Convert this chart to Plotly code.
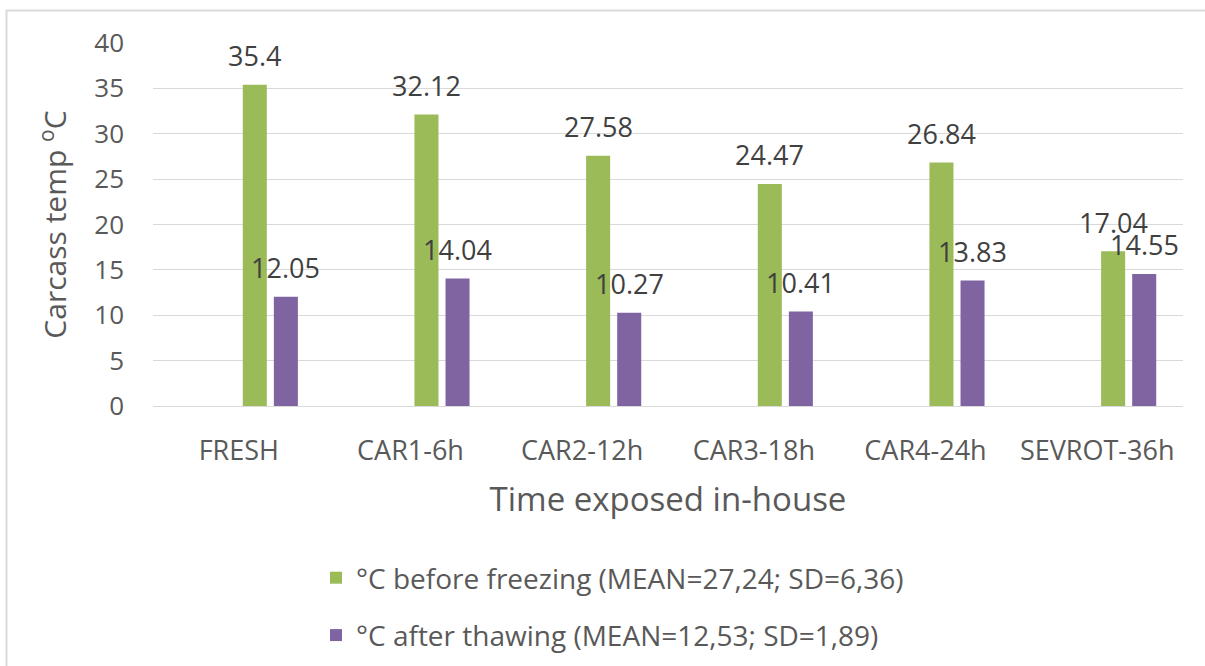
import plotly.graph_objects as go

categories = ["FRESH", "CAR1-6h", "CAR2-12h", "CAR3-18h", "CAR4-24h", "SEVROT-36h"]
before_freezing = [35.4, 32.12, 27.58, 24.47, 26.84, 17.04]
after_thawing = [12.05, 14.04, 10.27, 10.41, 13.83, 14.55]
name_before = "°C before freezing (MEAN=27,24; SD=6,36)"
name_after = "°C after thawing (MEAN=12,53; SD=1,89)"
y_ticks = [0, 5, 10, 15, 20, 25, 30, 35, 40]

GREEN = "#9BBB59"
PURPLE = "#8064A2"
GRID = "#D9D9D9"
AXIS_TXT = "#595959"
LABEL_TXT = "#404040"
FONT = "Open Sans"

W = 0.14
OFF_G = 0.023
OFF_P = 0.204

L, R, T, B = 153, 22, 43, 260
FW, FH = 1205, 666
PW, PH = FW - L - R, FH - T - B


def px_x(p):
    return (p - L) / PW


def px_y(p):
    return (FH - B - p) / PH


fig = go.Figure()
fig.add_trace(go.Bar(x=categories, y=before_freezing, name=name_before,
                     marker=dict(color=GREEN, line=dict(width=0)),
                     width=W, offset=OFF_G, legendgroup="a"))
fig.add_trace(go.Bar(x=categories, y=after_thawing, name=name_after,
                     marker=dict(color=PURPLE, line=dict(width=0)),
                     width=W, offset=OFF_P, legendgroup="b"))

annotations = []
for i, v in enumerate(before_freezing):
    annotations.append(dict(x=i + OFF_G + W / 2, y=v, xref="x", yref="y",
                            text=f"{v:g}", showarrow=False, yanchor="middle",
                            yshift=29, font=dict(family=FONT, size=27, color=LABEL_TXT)))
for i, v in enumerate(after_thawing):
    annotations.append(dict(x=i + OFF_P + W / 2, y=v, xref="x", yref="y",
                            text=f"{v:g}", showarrow=False, yanchor="middle",
                            yshift=29, font=dict(family=FONT, size=27, color=LABEL_TXT)))

shapes = [
    dict(type="line", xref="paper", yref="paper", x0=px_x(6.5), x1=px_x(FW + 2),
         y0=px_y(10.5), y1=px_y(10.5), line=dict(color=GRID, width=2)),
    dict(type="line", xref="paper", yref="paper", x0=px_x(6.5), x1=px_x(6.5),
         y0=px_y(10), y1=px_y(FH + 2), line=dict(color=GRID, width=2)),
]

fig.update_layout(
    width=FW, height=FH,
    margin=dict(l=L, r=R, t=T, b=B, autoexpand=False),
    paper_bgcolor="white", plot_bgcolor="white",
    font=dict(family=FONT, color=AXIS_TXT),
    barmode="overlay",
    annotations=annotations,
    shapes=shapes,
    showlegend=True,
    legend=dict(orientation="v", x=px_x(316), xanchor="left",
                y=px_y(553), yanchor="top", traceorder="grouped",
                tracegroupgap=18, font=dict(family=FONT, size=28, color=AXIS_TXT),
                bgcolor="rgba(0,0,0,0)"),
    xaxis=dict(type="category", range=[-0.5, 5.5], showgrid=False,
               showline=True, linecolor=GRID, linewidth=1,
               ticks="", ticklabelstandoff=21,
               tickfont=dict(family=FONT, size=27, color=AXIS_TXT),
               title=dict(text="Time exposed in-house", standoff=20,
                          font=dict(family=FONT, size=33, color=AXIS_TXT))),
    yaxis=dict(range=[0, 40], tickvals=y_ticks, showgrid=True, gridcolor=GRID,
               gridwidth=1, zeroline=False, showline=False, ticks="",
               ticklabelstandoff=28,
               tickfont=dict(family=FONT, size=26, color=AXIS_TXT),
               title=dict(text="Carcass temp <sup>o</sup>C", standoff=18,
                          font=dict(family=FONT, size=30, color=AXIS_TXT))),
)

fig.write_html("out.html", config={"displayModeBar": False},
               post_script="document.body.style.margin='0';")
